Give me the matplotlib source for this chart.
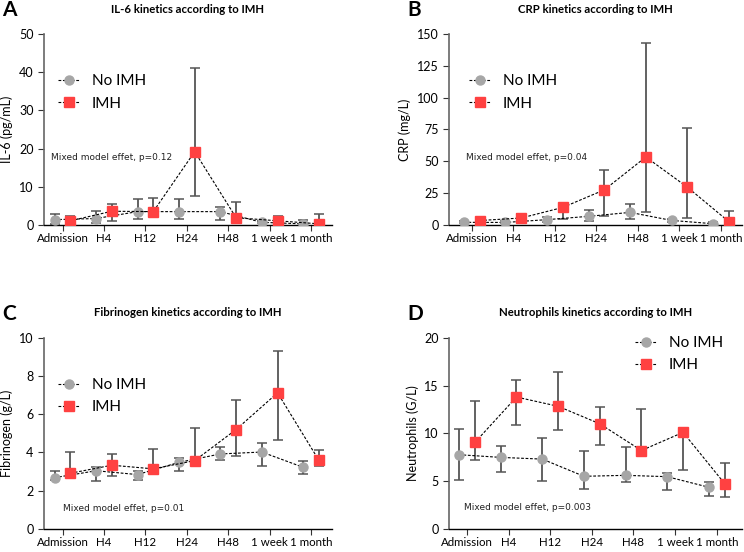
import numpy as np
import matplotlib.pyplot as plt

plt.rcParams['font.family'] = ['Lato', 'DejaVu Sans']

timepoints = ["Admission", "H4", "H12", "H24", "H48", "1 week", "1 month"]

# IL-6 (pg/mL): median, lower, upper
il6_no = [1.4, 1.7, 3.5, 3.5, 3.5, 0.7, 0.3]
il6_no_lo = [0.3, 0.4, 1.7, 1.7, 1.3, 0.4, 0.1]
il6_no_hi = [2.9, 3.6, 6.8, 6.7, 4.6, 1.0, 1.2]
il6_imh = [1.1, 3.6, 3.5, 19.2, 1.9, 1.1, 0.3]
il6_imh_lo = [0.5, 1.1, 2.5, 7.5, 1.5, 0.5, 0.0]
il6_imh_hi = [2.4, 5.5, 7.0, 41.0, 6.1, 2.3, 3.0]

# CRP (mg/L)
crp_no = [2.1, 2.0, 4.2, 6.8, 9.9, 3.6, 1.0]
crp_no_lo = [1.2, 1.2, 2.5, 3.0, 5.0, 2.0, 0.5]
crp_no_hi = [3.0, 3.0, 6.0, 11.5, 16.7, 5.0, 2.0]
crp_imh = [3.5, 5.5, 13.8, 27.6, 53.4, 29.7, 2.6]
crp_imh_lo = [1.0, 3.1, 4.7, 7.3, 10.5, 5.8, 0.0]
crp_imh_hi = [5.5, 8.3, 15.0, 43.0, 143.0, 76.0, 10.9]

# Fibrinogen (g/L)
fib_no = [2.68, 3.04, 2.84, 3.48, 3.92, 4.02, 3.22]
fib_no_lo = [2.55, 2.49, 2.54, 3.02, 3.58, 3.29, 2.89]
fib_no_hi = [3.04, 3.25, 3.03, 3.70, 4.28, 4.47, 3.55]
fib_imh = [2.91, 3.33, 3.14, 3.57, 5.20, 7.12, 3.58]
fib_imh_lo = [2.70, 2.76, 3.00, 3.45, 3.80, 4.63, 3.30]
fib_imh_hi = [4.00, 3.90, 4.20, 5.28, 6.76, 9.30, 4.15]

# Neutrophils (G/L)
neu_no = [7.76, 7.48, 7.30, 5.50, 5.60, 5.46, 4.35]
neu_no_lo = [5.08, 5.91, 5.01, 4.20, 4.90, 4.10, 3.40]
neu_no_hi = [10.50, 8.63, 9.53, 8.10, 8.56, 5.84, 4.94]
neu_imh = [9.04, 13.80, 12.83, 11.00, 8.20, 10.10, 4.73]
neu_imh_lo = [7.20, 10.90, 10.30, 8.73, 7.72, 6.20, 3.37]
neu_imh_hi = [13.40, 15.55, 16.40, 12.77, 12.55, 10.20, 6.92]

panels = [
    ("A", "IL-6 kinetics according to IMH", "IL-6 (pg/mL)", 50, 10,
     (il6_no, il6_no_lo, il6_no_hi), (il6_imh, il6_imh_lo, il6_imh_hi),
     "Mixed model effet, p=0.12", (0.024, 0.356), (0.049, 0.79), (-0.45, 6.5)),
    ("B", "CRP kinetics according to IMH", "CRP (mg/L)", 150, 25,
     (crp_no, crp_no_lo, crp_no_hi), (crp_imh, crp_imh_lo, crp_imh_hi),
     "Mixed model effet, p=0.04", (0.058, 0.356), (0.068, 0.79), (-0.55, 6.5)),
    ("C", "Fibrinogen kinetics according to IMH", "Fibrinogen (g/L)", 10, 2,
     (fib_no, fib_no_lo, fib_no_hi), (fib_imh, fib_imh_lo, fib_imh_hi),
     "Mixed model effet, p=0.01", (0.065, 0.105), (0.049, 0.79), (-0.45, 6.5)),
    ("D", "Neutrophils kinetics according to IMH", "Neutrophils (G/L)", 20, 5,
     (neu_no, neu_no_lo, neu_no_hi), (neu_imh, neu_imh_lo, neu_imh_hi),
     "Mixed model effet, p=0.003", (0.052, 0.11), (0.635, 1.01), (-0.43, 6.6)),
]

fig = plt.figure(figsize=(7.44, 5.52), dpi=100)
boxes = [(0.059, 0.5924, 0.387, 0.346), (0.6035, 0.5924, 0.3935, 0.346),
         (0.059, 0.0420, 0.387, 0.346), (0.6035, 0.0420, 0.3935, 0.346)]

x = np.arange(len(timepoints))

for (letter, title, ylabel, ymax, ystep, no, imh, note, note_pos, leg_pos, xlim), box in zip(panels, boxes):
    ax = fig.add_axes(box)
    for vals, off, color, marker, ms, label in [
            (no, -0.19, "#a6a6a6", "o", 6.5, "No IMH"),
            (imh, 0.19, "#ff4141", "s", 6.5, "IMH")]:
        med, lo, hi = [np.array(v) for v in vals]
        yerr = [med - lo, hi - med]
        _, caps, bars = ax.errorbar(x + off, med, yerr=yerr, fmt="none", ecolor="#555555",
                                    elinewidth=1.3, capsize=3.5, capthick=1.1, zorder=2)
        for c in caps:
            c.set_color("black")
        ax.plot(x + off, med, linestyle=(0, (2.5, 1.5)), color="black", linewidth=0.8,
                marker=marker, markersize=ms, markerfacecolor=color, markeredgecolor=color,
                label=label, zorder=3)

    ax.set_xlim(*xlim)
    ax.set_ylim(0, ymax)
    ax.set_yticks(np.arange(0, ymax + 0.1, ystep))
    ax.set_xticks(x)
    ax.set_xticklabels(timepoints)
    ax.set_ylabel(ylabel, fontsize=9)
    ax.spines["top"].set_visible(False)
    ax.spines["right"].set_visible(False)
    ax.spines["left"].set_color("#666666")
    ax.spines["left"].set_linewidth(1.2)
    ax.spines["bottom"].set_color("black")
    ax.spines["bottom"].set_linewidth(1.0)
    ax.tick_params(axis="y", colors="#333333", labelcolor="black", labelsize=9, length=4)
    ax.tick_params(axis="x", colors="#333333", labelcolor="black", labelsize=8.3,
                   length=4, pad=2)

    ax.text(note_pos[0], note_pos[1], note, transform=ax.transAxes, va="center",
            fontsize=6.5, family="DejaVu Sans", color="#222222")
    ax.legend(loc="upper left", bbox_to_anchor=leg_pos, frameon=False, fontsize=11,
              handlelength=1.4, handletextpad=0.8, labelspacing=0.55, numpoints=1,
              borderaxespad=0, borderpad=0)

    pos = ax.get_position()
    fig.text(pos.x0 + pos.width / 2, pos.y1 + 0.045, title, ha="center",
             va="center", fontsize=8.2, fontweight="bold")
    fig.text(pos.x0 - 0.056, pos.y1 + 0.043,
             letter, ha="left", va="center", fontsize=15, fontweight="bold")

fig.savefig("out.png", dpi=100)
